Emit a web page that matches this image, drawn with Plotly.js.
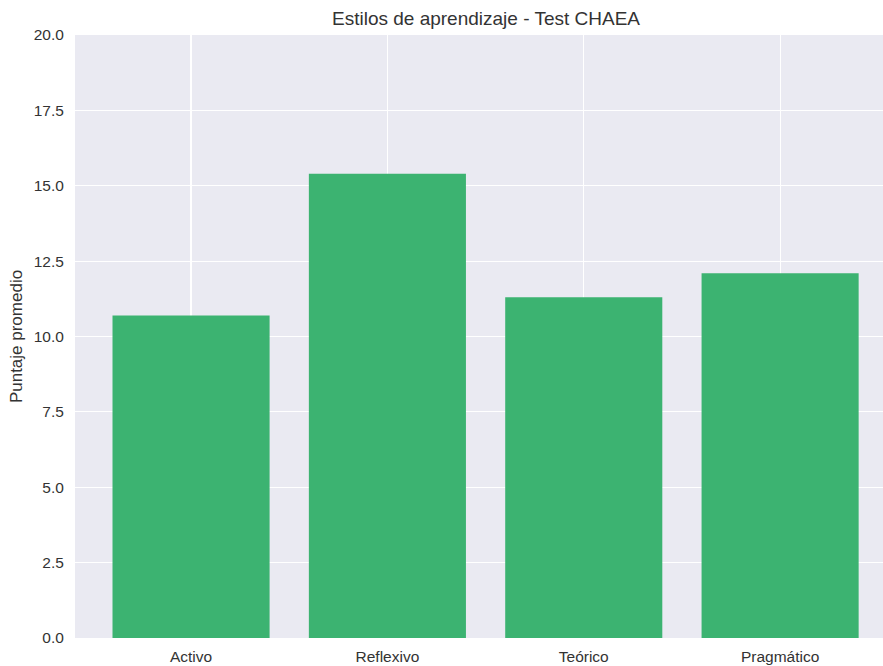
<!DOCTYPE html>
<html>
<head>
<meta charset="utf-8">
<script src="https://cdn.plot.ly/plotly-3.0.1.min.js"></script>
<style>html,body{margin:0;padding:0;background:#fff}#chart{width:883px;height:666px}</style>
</head>
<body>
<div id="chart"></div>
<script>
const categories = ["Activo", "Reflexivo", "Teórico", "Pragmático"];
const values = [10.7, 15.4, 11.3, 12.1];
const yTicks = [0, 2.5, 5, 7.5, 10, 12.5, 15, 17.5, 20];
const titleText = "Estilos de aprendizaje - Test CHAEA";
const yTitle = "Puntaje promedio";

const fam = "Liberation Sans, Arial, sans-serif";
const txt = "#333333";

Plotly.newPlot("chart", [{
  type: "bar",
  x: [0, 1, 2, 3],
  y: values,
  width: 0.8,
  marker: {color: "#3CB371", line: {width: 0}},
  hoverinfo: "skip"
}], {
  width: 883, height: 666,
  margin: {l: 75, r: 0, t: 35, b: 28, pad: 0},
  paper_bgcolor: "#ffffff",
  plot_bgcolor: "#EAEAF2",
  font: {family: fam, color: txt, size: 15},
  showlegend: false,
  title: {text: titleText, font: {family: fam, size: 19, color: txt},
          x: 486/883, xref: "container", xanchor: "center", y: 1 - 18/666, yref: "container", yanchor: "middle"},
  xaxis: {
    range: [-0.591, 3.524],
    tickvals: [0, 1, 2, 3], ticktext: categories,
    showgrid: true, gridcolor: "#ffffff", gridwidth: 1.2,
    zeroline: false, showline: false,
    ticks: "outside", ticklen: 4, tickcolor: "rgba(0,0,0,0)",
    tickfont: {size: 15.5, color: txt, family: fam}
  },
  yaxis: {
    range: [0, 20],
    tickvals: yTicks, tickformat: ".1f",
    showgrid: true, gridcolor: "#ffffff", gridwidth: 1.2,
    zeroline: false, showline: false,
    ticks: "outside", ticklen: 7, tickcolor: "rgba(0,0,0,0)",
    tickfont: {size: 15.5, color: txt, family: fam},
    title: {text: yTitle, font: {size: 17, color: txt, family: fam}, standoff: 6}
  }
}, {displayModeBar: false, staticPlot: true});
</script>
</body>
</html>
